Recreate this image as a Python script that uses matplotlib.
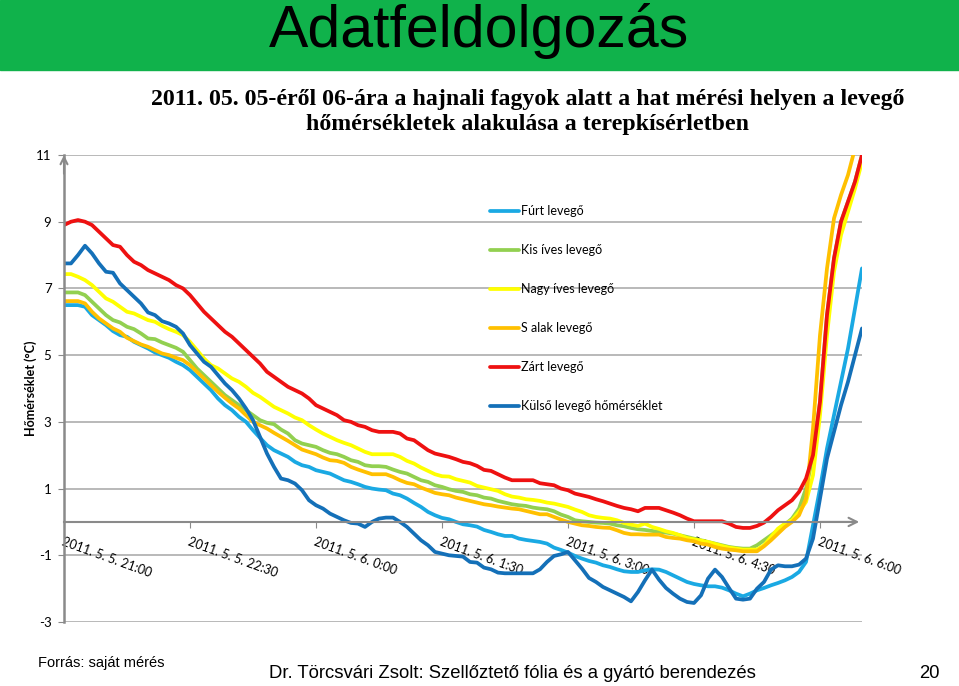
import numpy as np
import matplotlib.pyplot as plt
from matplotlib.patches import Rectangle

# 5 minute readings, 21:00 (5 May) .. 6:30 (6 May), minutes after 21:00
minutes = np.arange(0, 575, 5)

tick_pos = [0, 90, 180, 270, 360, 450, 540]
tick_labels = ['2011. 5. 5. 21:00', '2011. 5. 5. 22:30', '2011. 5. 6. 0:00',
               '2011. 5. 6. 1:30', '2011. 5. 6. 3:00', '2011. 5. 6. 4:30',
               '2011. 5. 6. 6:00']

# temperatures (°C)
furt = [6.5, 6.5, 6.5, 6.45, 6.2, 6.05, 5.9, 5.72, 5.6, 5.55,
        5.4, 5.3, 5.2, 5.08, 5.0, 4.92, 4.8, 4.7, 4.55, 4.35,
        4.15, 3.95, 3.7, 3.5, 3.35, 3.15, 3.0, 2.75, 2.52, 2.3,
        2.15, 2.05, 1.95, 1.8, 1.7, 1.65, 1.55, 1.5, 1.45, 1.35,
        1.25, 1.2, 1.13, 1.05, 1.0, 0.97, 0.95, 0.85, 0.8, 0.7,
        0.57, 0.45, 0.3, 0.2, 0.12, 0.08, 0.0, -0.07, -0.1, -0.14,
        -0.24, -0.3, -0.37, -0.42, -0.42, -0.5, -0.54, -0.57, -0.6, -0.65,
        -0.77, -0.84, -0.92, -1.02, -1.1, -1.17, -1.22, -1.3, -1.35, -1.42,
        -1.48, -1.5, -1.5, -1.45, -1.42, -1.43, -1.5, -1.6, -1.7, -1.8,
        -1.86, -1.9, -1.93, -1.93, -1.97, -2.05, -2.15, -2.23, -2.15, -2.05,
        -1.98, -1.9, -1.83, -1.75, -1.65, -1.5, -1.2, -0.1, 1.0, 2.2,
        3.2, 4.2, 5.2, 6.4, 7.6]

kis_ives = [6.88, 6.88, 6.88, 6.8, 6.6, 6.4, 6.2, 6.05, 5.98, 5.85,
            5.78, 5.65, 5.5, 5.48, 5.38, 5.3, 5.22, 5.1, 4.85, 4.6,
            4.4, 4.2, 4.0, 3.8, 3.65, 3.5, 3.35, 3.2, 3.05, 2.97,
            2.93, 2.77, 2.65, 2.45, 2.35, 2.3, 2.25, 2.15, 2.07, 2.03,
            1.95, 1.85, 1.8, 1.7, 1.67, 1.67, 1.65, 1.57, 1.5, 1.45,
            1.35, 1.25, 1.2, 1.1, 1.05, 0.98, 0.93, 0.9, 0.83, 0.8,
            0.73, 0.7, 0.63, 0.58, 0.53, 0.5, 0.48, 0.43, 0.4, 0.38,
            0.32, 0.22, 0.15, 0.05, 0.02, 0.0, -0.02, -0.03, -0.05, -0.1,
            -0.13, -0.18, -0.22, -0.24, -0.27, -0.3, -0.32, -0.35, -0.4, -0.45,
            -0.5, -0.55, -0.6, -0.65, -0.7, -0.75, -0.78, -0.8, -0.8, -0.7,
            -0.55, -0.4, -0.25, -0.08, 0.1, 0.4, 1.0, 2.0, 3.6, 6.2,
            7.9, 9.0, 9.6, 10.2, 11.0]

nagy_ives = [7.43, 7.43, 7.35, 7.25, 7.1, 6.9, 6.7, 6.6, 6.45, 6.3,
             6.25, 6.15, 6.05, 6.0, 5.88, 5.78, 5.7, 5.6, 5.4, 5.15,
             4.9, 4.7, 4.6, 4.45, 4.3, 4.2, 4.05, 3.87, 3.75, 3.6,
             3.45, 3.35, 3.25, 3.13, 3.05, 2.9, 2.77, 2.65, 2.55, 2.45,
             2.37, 2.3, 2.2, 2.1, 2.03, 2.03, 2.03, 2.03, 1.95, 1.83,
             1.75, 1.63, 1.53, 1.43, 1.37, 1.36, 1.28, 1.23, 1.18, 1.08,
             1.03, 0.98, 0.93, 0.83, 0.76, 0.73, 0.68, 0.66, 0.63, 0.58,
             0.55, 0.5, 0.45, 0.37, 0.3, 0.2, 0.15, 0.12, 0.1, 0.05,
             -0.03, -0.08, -0.12, -0.05, -0.15, -0.21, -0.28, -0.33, -0.4, -0.48,
             -0.52, -0.56, -0.6, -0.66, -0.72, -0.77, -0.8, -0.83, -0.83, -0.83,
             -0.7, -0.45, -0.2, -0.05, 0.05, 0.3, 0.6, 1.4, 3.2, 5.6,
             7.5, 8.6, 9.3, 10.0, 10.8]

s_alak = [6.62, 6.62, 6.62, 6.55, 6.3, 6.1, 5.95, 5.8, 5.7, 5.52,
          5.42, 5.32, 5.25, 5.15, 5.05, 5.0, 4.92, 4.85, 4.7, 4.5,
          4.3, 4.1, 3.9, 3.72, 3.55, 3.4, 3.2, 3.0, 2.9, 2.8,
          2.67, 2.55, 2.43, 2.3, 2.17, 2.1, 2.03, 1.93, 1.85, 1.83,
          1.77, 1.65, 1.57, 1.5, 1.43, 1.43, 1.43, 1.35, 1.25, 1.17,
          1.13, 1.03, 0.95, 0.87, 0.83, 0.8, 0.73, 0.68, 0.63, 0.58,
          0.53, 0.5, 0.46, 0.43, 0.4, 0.38, 0.33, 0.28, 0.23, 0.23,
          0.15, 0.07, 0.0, -0.05, -0.1, -0.12, -0.15, -0.17, -0.18, -0.25,
          -0.33, -0.37, -0.37, -0.38, -0.38, -0.38, -0.45, -0.48, -0.5, -0.55,
          -0.58, -0.65, -0.68, -0.75, -0.8, -0.83, -0.85, -0.88, -0.88, -0.88,
          -0.73, -0.55, -0.35, -0.15, 0.0, 0.2, 0.7, 2.8, 5.6, 7.6,
          9.1, 9.8, 10.4, 11.2, 11.9]

zart = [8.9, 9.0, 9.05, 9.0, 8.9, 8.7, 8.5, 8.3, 8.25, 8.0,
        7.8, 7.7, 7.55, 7.45, 7.35, 7.25, 7.1, 7.0, 6.8, 6.55,
        6.3, 6.1, 5.9, 5.7, 5.55, 5.35, 5.15, 4.95, 4.75, 4.5,
        4.35, 4.2, 4.05, 3.95, 3.85, 3.7, 3.5, 3.4, 3.3, 3.2,
        3.05, 3.0, 2.9, 2.85, 2.75, 2.7, 2.7, 2.7, 2.65, 2.5,
        2.45, 2.3, 2.15, 2.05, 2.0, 1.95, 1.88, 1.8, 1.76, 1.68,
        1.56, 1.53, 1.43, 1.33, 1.25, 1.25, 1.25, 1.25, 1.16, 1.13,
        1.1, 1.0, 0.95, 0.85, 0.8, 0.75, 0.68, 0.62, 0.55, 0.48,
        0.42, 0.38, 0.32, 0.42, 0.42, 0.42, 0.35, 0.28, 0.2, 0.1,
        0.02, 0.02, 0.02, 0.02, 0.02, -0.05, -0.15, -0.18, -0.18, -0.12,
        -0.02, 0.15, 0.35, 0.5, 0.65, 0.9, 1.3, 2.0, 3.6, 6.2,
        7.9, 9.0, 9.6, 10.2, 11.0]

kulso = [7.75, 7.75, 8.0, 8.28, 8.05, 7.75, 7.5, 7.47, 7.15, 6.95,
         6.75, 6.55, 6.28, 6.2, 6.02, 5.95, 5.85, 5.65, 5.3, 5.05,
         4.8, 4.65, 4.4, 4.15, 3.95, 3.7, 3.4, 3.05, 2.55, 2.05,
         1.65, 1.3, 1.25, 1.15, 0.95, 0.65, 0.5, 0.4, 0.25, 0.15,
         0.05, -0.03, -0.05, -0.15, 0.0, 0.1, 0.13, 0.13, 0.0, -0.15,
         -0.35, -0.55, -0.7, -0.9, -0.95, -1.0, -1.02, -1.04, -1.2, -1.22,
         -1.37, -1.42, -1.52, -1.54, -1.54, -1.54, -1.54, -1.54, -1.42, -1.2,
         -1.02, -0.97, -0.9, -1.15, -1.4, -1.68, -1.8, -1.95, -2.05, -2.15,
         -2.25, -2.38, -2.1, -1.75, -1.43, -1.73, -1.98, -2.15, -2.3, -2.4,
         -2.43, -2.2, -1.7, -1.43, -1.65, -1.98, -2.3, -2.33, -2.3, -2.0,
         -1.8, -1.43, -1.3, -1.33, -1.33, -1.28, -1.1, -0.5, 0.7, 1.9,
         2.7, 3.5, 4.2, 5.0, 5.8]

series = [('Fúrt levegő', furt, '#1aa9e3'),
          ('Kis íves levegő', kis_ives, '#92d050'),
          ('Nagy íves levegő', nagy_ives, '#ffff00'),
          ('S alak levegő', s_alak, '#ffc000'),
          ('Zárt levegő', zart, '#ee1111'),
          ('Külső levegő hőmérséklet', kulso, '#1470b8')]

plt.rcParams['font.family'] = ['Lato', 'DejaVu Sans']
plt.rcParams['axes.unicode_minus'] = False
axis_grey = '#8a8a8a'
sans = ['Liberation Sans', 'DejaVu Sans']

fig = plt.figure(figsize=(9.59, 6.86), dpi=100)

# green header band
fig.add_artist(Rectangle((0, 1 - 70 / 686), 1, 70 / 686, transform=fig.transFigure,
                         color='#10b24b', zorder=0))
fig.text(0.5, 1 - 31 / 686, 'Adatfeldolgozás', ha='center', va='center',
         fontsize=42.5, family=sans)

fig.text(528 / 959, 1 - 112 / 686,
         '2011. 05. 05-éről 06-ára a hajnali fagyok alatt a hat mérési helyen a levegő\n'
         'hőmérsékletek alakulása a terepkísérletben',
         ha='center', va='center', fontsize=17.2, fontweight='bold', linespacing=1.3,
         family=['Liberation Serif', 'DejaVu Serif'])

ax = fig.add_axes([64 / 959, 1 - 622 / 686, 798 / 959, 467 / 686])

yticks = [-3, -1, 1, 3, 5, 7, 9, 11]
for v in yticks:
    ax.axhline(v, color='#a6a6a6', lw=1.1, zorder=0.5)

for name, vals, col in series:
    ax.plot(minutes, vals, color=col, lw=2.7, label=name,
            solid_joinstyle='round', solid_capstyle='round', zorder=2)

ax.set_xlim(0, 570)
ax.set_ylim(-3, 11)
ax.set_yticks(yticks)
ax.set_xticks(tick_pos)
ax.set_xticklabels(tick_labels)

ax.spines['top'].set_visible(False)
ax.spines['right'].set_visible(False)
ax.spines['left'].set_color(axis_grey)
ax.spines['left'].set_linewidth(1.8)
ax.spines['bottom'].set_position(('data', 0))
ax.spines['bottom'].set_color(axis_grey)
ax.spines['bottom'].set_linewidth(1.5)
ax.spines['bottom'].set_bounds(0, 566)

# arrow heads on the axes
ax.annotate('', xy=(0, 1.0), xycoords='axes fraction', xytext=(0, 0.96),
            arrowprops=dict(arrowstyle='->,head_length=0.5,head_width=0.25',
                            color=axis_grey, lw=1.5, shrinkA=0, shrinkB=0))
ax.annotate('', xy=(568, 0), xycoords='data', xytext=(540, 0),
            arrowprops=dict(arrowstyle='->,head_length=0.6,head_width=0.3',
                            color=axis_grey, lw=1.5, shrinkA=0, shrinkB=0))

ax.tick_params(axis='x', direction='out', length=4, color=axis_grey, pad=6,
               labelsize=9)
ax.tick_params(axis='y', direction='out', length=4, color=axis_grey, pad=5,
               labelsize=9.5)
for lab in ax.get_xticklabels():
    lab.set_rotation(-20)
    lab.set_ha('left')
    lab.set_va('top')
    lab.set_rotation_mode('anchor')

ax.set_ylabel('Hőmérséklet (°C)', fontweight='bold', fontsize=9, labelpad=-1)

ax.legend(loc='upper left', bbox_to_anchor=(490 / 959, 1 - 205 / 686),
          bbox_transform=fig.transFigure, frameon=False, fontsize=9,
          handlelength=2.3, handletextpad=0.2, labelspacing=2.16,
          borderpad=0, borderaxespad=0)

fig.text(38 / 959, 1 - 663 / 686, 'Forrás: saját mérés', va='center',
         fontsize=10.5, family=sans)
fig.text(512 / 959, 1 - 673 / 686,
         'Dr. Törcsvári Zsolt: Szellőztető fólia és a gyártó berendezés',
         ha='center', va='center', fontsize=13.3, family=sans)
fig.text(929 / 959, 1 - 673 / 686, '20', ha='center', va='center',
         fontsize=13.3, family=sans)

fig.savefig('out.png', dpi=100)
